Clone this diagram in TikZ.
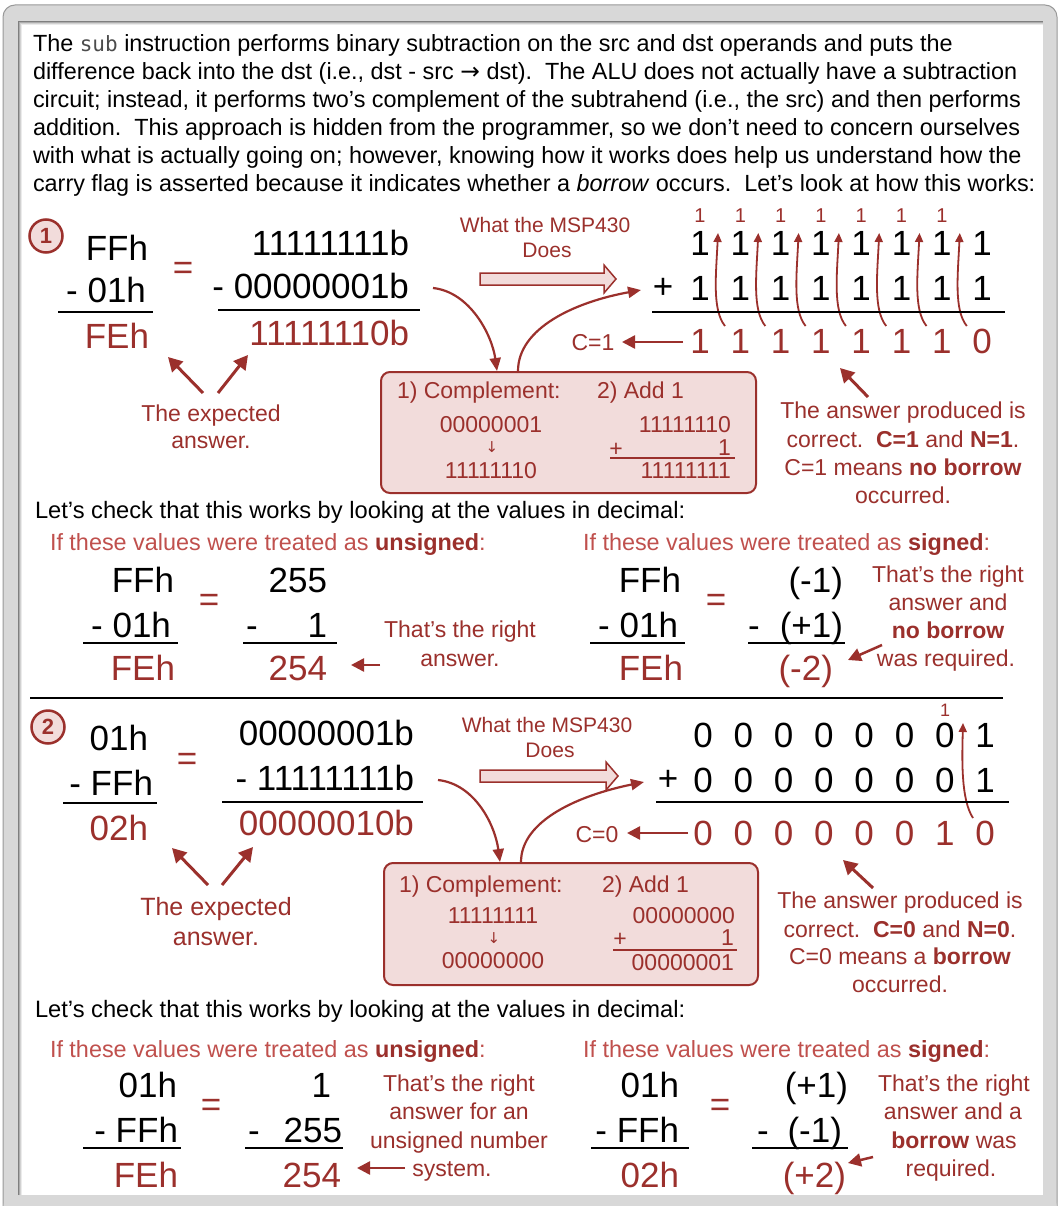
\documentclass[tikz,border=0pt]{standalone}
\usepackage{fontspec}
\setmainfont{Liberation Sans}
\newfontfamily\symf{DejaVu Sans}
\newfontfamily\monof{DejaVu Sans Mono}
\usetikzlibrary{arrows.meta}
\definecolor{dred}{RGB}{155,48,44}
\definecolor{lred}{RGB}{192,80,77}
\definecolor{pinkf}{RGB}{242,220,219}
\definecolor{framegray}{RGB}{216,216,216}
\newcommand{\setfs}[1]{\fontsize{#1pt}{#1pt}\selectfont}
\begin{document}
\begin{tikzpicture}[x=1pt,y=-1pt,every node/.style={inner sep=0pt,outer sep=0pt}]
\tikzset{
 para/.style={anchor=base west,font=\setfs{23.4}},
 bigE/.style={anchor=base east,font=\setfs{35}},
 bigW/.style={anchor=base west,font=\setfs{35}},
 eqs/.style={text=dred,font=\setfs{35}},
 note/.style={anchor=base,text=dred,font=\setfs{23}},
 rulel/.style={line width=2.2pt,black},
 bigarr/.style={dred,line width=3pt,-{Triangle[length=14pt,width=15pt]}},
 midarr/.style={dred,line width=2.5pt,-{Triangle[length=13pt,width=13pt]}},
 curvarr/.style={dred,line width=2.2pt,-{Triangle[length=13pt,width=11pt]}},
 carr/.style={dred,line width=1.8pt,-{Triangle[length=9pt,width=8pt]}},
 circnum/.style={circle,draw=dred,fill=pinkf,line width=2.5pt,minimum size=33pt,text=dred,font=\setfs{22}\bfseries},
 boxst/.style={draw=dred,fill=pinkf,line width=2pt,rounded corners=9pt,anchor=north west},
 boxt/.style={text=dred,font=\setfs{23}},
 hollow/.style={draw=dred,fill=pinkf,line width=1.5pt},
 carryn/.style={anchor=base,text=dred,font=\setfs{20}},
 gdig/.style={anchor=base,font=\setfs{35}},
 smallline/.style={dred,line width=1.2pt},
 downar/.style={text=dred,font=\symf\setfs{15}}
}
\useasboundingbox (0,0) rectangle (1060,1206);
% frame
\fill[white] (0,0) rectangle (1060,1206);
\fill[framegray,rounded corners=12pt] (3,1214) -- (3,5) -- (1057,5) -- (1057,1214) -- cycle;
\draw[black!40,line width=1pt,rounded corners=12pt] (3,1214) -- (3,5) -- (1057,5) -- (1057,1214);
\fill[white] (18,21) rectangle (1043,1195);
\foreach \i/\o in {0/0.5,1/0.32,2/0.18,3/0.08}{\draw[black,opacity=\o,line width=1pt] (18.5+\i,1195) -- (18.5+\i,21.5+\i) -- (1043,21.5+\i);}

% paragraph
\node[para] (p1) at (33,52) {The {\monof\setfs{21}\color{black!70}sub} instruction performs binary subtraction on the src and dst operands and puts the};
\node[para] (p2) at (33,80) {difference back into the dst (i.e., dst - src {\symf →} dst).\ \ The ALU does not actually have a subtraction};
\node[para] (p3) at (33,108) {circuit; instead, it performs two’s complement of the subtrahend (i.e., the src) and then performs};
\node[para] (p4) at (33,136) {addition.\ \ This approach is hidden from the programmer, so we don’t need to concern ourselves};
\node[para] (p5) at (33,164) {with what is actually going on; however, knowing how it works does help us understand how the};
\node[para] (p6) at (33,192) {carry flag is asserted because it indicates whether a \textit{borrow} occurs.\ \ Let’s look at how this works:};

% ===== Section 1 =====
\node[circnum] (c1) at (46,236) {1};
\node[bigE] (a1) at (148,260) {FFh};
\node[bigE] (a2) at (146,302) {- 01h};
\draw[rulel] (58,312) -- (153,312);
\node[bigE,text=dred] (a3) at (149,348) {FEh};
\node[eqs] (eq1) at (183,271) {=};
\node[bigE] (b1) at (409,255) {11111111b};
\node[bigE] (b2) at (409,298) {- 00000001b};
\draw[rulel] (218,310) -- (420,310);
\node[bigE,text=dred] (b3) at (409,345) {11111110b};
\node[note] (x1) at (211,421) {The expected};
\node[note] (x1b) at (211,448) {answer.};
\coordinate (e1a) at (203,393); \coordinate (e1b) at (168,357);
\coordinate (e2a) at (218,393); \coordinate (e2b) at (248,355);
\draw[bigarr] (e1a) -- (e1b);
\draw[bigarr] (e2a) -- (e2b);
% what the MSP430 does
\node[anchor=base,text=dred,font=\setfs{21}] (w1) at (545,233) {What the MSP430};
\node[anchor=base,text=dred,font=\setfs{21}] (w1b) at (547,258) {Does};
\draw[hollow] (480,273) -- (604,273) -- (604,265) -- (616,279) -- (604,293) -- (604,285) -- (480,285) -- cycle;
% box
\node[boxst,minimum width=375pt,minimum height=121pt] (box1) at (381,372) {};
\node[boxt,anchor=base west] (k1) at (397,398) {1) Complement:};
\node[boxt,anchor=base west] (k2) at (597,398) {2) Add 1};
\node[boxt,anchor=base] (k3) at (491,432) {00000001};
\node[downar] (k4) at (492,447) {↓};
\node[boxt,anchor=base] (k5) at (491,478) {11111110};
\node[boxt,anchor=base east] (k6) at (731,432) {11111110};
\node[boxt] (k7) at (616,450) {+};
\node[boxt,anchor=base east] (k8) at (731,455) {1};
\draw[smallline] (610,458) -- (735,458);
\node[boxt,anchor=base east] (k9) at (731,478) {11111111};
% curves
\coordinate (q1a) at (433,288); \coordinate (q1b) at (497,371);
\draw[curvarr] (q1a) .. controls (470,292) and (492,335) .. (q1b);
\coordinate (q2a) at (518,371); \coordinate (q2b) at (641,290);
\draw[curvarr] (q2a) .. controls (518,328) and (575,302) .. (q2b);
% grid
\foreach \k in {0,...,7} {
  \node[gdig] (ga\k) at ({700+40.3*\k},255) {1};
  \node[gdig] (gb\k) at ({700+40.3*\k},300) {1};
}
\foreach \k/\d in {0/1,1/1,2/1,3/1,4/1,5/1,6/1,7/0} {\node[gdig,text=dred] (gr\k) at ({700+40.3*\k},353) {\d};}
\foreach \k in {0,...,6} {
  \node[carryn] (gc\k) at ({700+40.3*\k},223) {1};
  \coordinate (cb\k) at ({725+40.3*\k},326);
  \coordinate (ct\k) at ({718+40.3*\k},233);
  \draw[carr] (cb\k) .. controls ({712+40.3*\k},310) and ({716+40.3*\k},275) .. (ct\k);
}
\node[font=\setfs{35}] (plus1) at (663,288) {+};
\draw[rulel] (652,312) -- (1005,312);
\node[anchor=base,text=dred,font=\setfs{23}] (cf1) at (593,350) {C=1};
\coordinate (cf1a) at (683,342); \coordinate (cf1b) at (622,342);
\draw[midarr] (cf1a) -- (cf1b);
\coordinate (an1a) at (868,397); \coordinate (an1b) at (840,368);
\draw[bigarr] (an1a) -- (an1b);
\node[note] (t1) at (903,418) {The answer produced is};
\node[note] (t2) at (903,447) {correct.\ \ \textbf{C=1} and \textbf{N=1}.};
\node[note] (t3) at (903,475) {C=1 means \textbf{no borrow}};
\node[note] (t4) at (903,503) {occurred.};

% decimal 1
\node[para,font=\setfs{23.7}] (l1) at (35,518) {Let’s check that this works by looking at the values in decimal:};
\node[para,text=lred] (u1) at (50,550) {If these values were treated as \textcolor{dred}{\textbf{unsigned}}:};
\node[para,text=lred] (s1) at (583,550) {If these values were treated as \textcolor{dred}{\textbf{signed}}:};
\node[bigE] (d1) at (174,592) {FFh};
\node[bigE] (d2) at (171,637) {- 01h};
\draw[rulel] (83,643) -- (178,643);
\node[bigE,text=dred] (d3) at (175,680) {FEh};
\node[eqs] (eq2) at (209,603) {=};
\node[bigE] (d4) at (327,592) {255};
\node[bigW] (d5) at (246,637) {-};
\node[bigE] (d6) at (327,637) {1};
\draw[rulel] (243,643) -- (337,643);
\node[bigE,text=dred] (d7) at (327,680) {254};
\coordinate (r1a) at (380,665); \coordinate (r1b) at (351,665);
\draw[midarr] (r1a) -- (r1b);
\node[note] (r1t) at (460,637) {That’s the right};
\node[note] (r1u) at (460,666) {answer.};
\node[bigE] (f1) at (681,592) {FFh};
\node[bigE] (f2) at (678,637) {- 01h};
\draw[rulel] (590,643) -- (685,643);
\node[bigE,text=dred] (f3) at (683,680) {FEh};
\node[eqs] (eq3) at (716,603) {=};
\node[bigE] (f4) at (843,592) {(-1)};
\node[bigW] (f5) at (748,637) {-};
\node[bigE] (f6) at (843,637) {(+1)};
\draw[rulel] (748,643) -- (845,643);
\node[bigE,text=dred] (f7) at (833,680) {(-2)};
\coordinate (r2a) at (882,645); \coordinate (r2b) at (848,660);
\draw[midarr] (r2a) -- (r2b);
\node[note] (r2t) at (948,582) {That’s the right};
\node[note] (r2u) at (948,610) {answer and};
\node[note] (r2v) at (948,638) {\textbf{no borrow}};
\node[note] (r2w) at (946,666) {was required.};

\draw[rulel] (30,698) -- (1003,698);

% ===== Section 2 =====
\node[circnum] (c2) at (48,727) {2};
\node[bigE] (a4) at (148,750) {01h};
\node[bigE] (a5) at (153,795) {- FFh};
\draw[rulel] (63,803) -- (157,803);
\node[bigE,text=dred] (a6) at (148,840) {02h};
\node[eqs] (eq4) at (187,762) {=};
\node[bigE] (b4) at (414,745) {00000001b};
\node[bigE] (b5) at (414,790) {- 11111111b};
\draw[rulel] (222,802) -- (423,802);
\node[bigE,text=dred] (b6) at (414,835) {00000010b};
\node[note,font=\setfs{25}] (x2) at (216,915) {The expected};
\node[note,font=\setfs{25}] (x2b) at (216,945) {answer.};
\coordinate (e3a) at (208,885); \coordinate (e3b) at (172,848);
\coordinate (e4a) at (222,885); \coordinate (e4b) at (253,847);
\draw[bigarr] (e3a) -- (e3b);
\draw[bigarr] (e4a) -- (e4b);
\node[anchor=base,text=dred,font=\setfs{21}] (w2) at (547,732) {What the MSP430};
\node[anchor=base,text=dred,font=\setfs{21}] (w2b) at (550,757) {Does};
\draw[hollow] (480,770) -- (606,770) -- (606,762) -- (618,776) -- (606,790) -- (606,782) -- (480,782) -- cycle;
\node[boxst,minimum width=374pt,minimum height=122pt] (box2) at (384,863) {};
\node[boxt,anchor=base west] (m1) at (399,892) {1) Complement:};
\node[boxt,anchor=base west] (m2) at (602,892) {2) Add 1};
\node[boxt,anchor=base] (m3) at (493,923) {11111111};
\node[downar] (m4) at (494,938) {↓};
\node[boxt,anchor=base] (m5) at (493,968) {00000000};
\node[boxt,anchor=base east] (m6) at (735,923) {00000000};
\node[boxt] (m7) at (620,940) {+};
\node[boxt,anchor=base east] (m8) at (734,945) {1};
\draw[smallline] (613,950) -- (737,950);
\node[boxt,anchor=base east] (m9) at (734,970) {00000001};
\coordinate (q3a) at (438,780); \coordinate (q3b) at (500,862);
\draw[curvarr] (q3a) .. controls (475,784) and (495,825) .. (q3b);
\coordinate (q4a) at (521,862); \coordinate (q4b) at (644,782);
\draw[curvarr] (q4a) .. controls (521,820) and (580,795) .. (q4b);
\foreach \k/\d in {0/0,1/0,2/0,3/0,4/0,5/0,6/0,7/1} {
  \node[gdig] (ha\k) at ({703+40.3*\k},747) {\d};
  \node[gdig] (hb\k) at ({703+40.3*\k},792) {\d};
}
\foreach \k/\d in {0/0,1/0,2/0,3/0,4/0,5/0,6/1,7/0} {\node[gdig,text=dred] (hr\k) at ({703+40.3*\k},845) {\d};}
\node[carryn,font=\setfs{18}] (hc6) at (945,716) {1};
\coordinate (hcb) at (973,818); \coordinate (hct) at (963,723);
\draw[carr] (hcb) .. controls (961,800) and (962,760) .. (hct);
\node[font=\setfs{35}] (plus2) at (668,780) {+};
\draw[rulel] (656,802) -- (1009,802);
\node[anchor=base,text=dred,font=\setfs{23}] (cf2) at (597,842) {C=0};
\coordinate (cf2a) at (688,833); \coordinate (cf2b) at (627,833);
\draw[midarr] (cf2a) -- (cf2b);
\coordinate (an2a) at (873,888); \coordinate (an2b) at (843,860);
\draw[bigarr] (an2a) -- (an2b);
\node[note] (t5) at (900,908) {The answer produced is};
\node[note] (t6) at (900,937) {correct.\ \ \textbf{C=0} and \textbf{N=0}.};
\node[note] (t7) at (900,964) {C=0 means a \textbf{borrow}};
\node[note] (t8) at (900,992) {occurred.};

% decimal 2
\node[para,font=\setfs{23.7}] (l2) at (35,1017) {Let’s check that this works by looking at the values in decimal:};
\node[para,text=lred] (u2) at (50,1057) {If these values were treated as \textcolor{dred}{\textbf{unsigned}}:};
\node[para,text=lred] (s2) at (583,1057) {If these values were treated as \textcolor{dred}{\textbf{signed}}:};
\node[bigE] (d8) at (177,1097) {01h};
\node[bigE] (d9) at (178,1142) {- FFh};
\draw[rulel] (83,1148) -- (181,1148);
\node[bigE,text=dred] (d10) at (178,1187) {FEh};
\node[eqs] (eq5) at (211,1108) {=};
\node[bigE] (d11) at (331,1097) {1};
\node[bigW] (d12) at (248,1142) {-};
\node[bigE] (d13) at (342,1142) {255};
\draw[rulel] (245,1148) -- (343,1148);
\node[bigE,text=dred] (d14) at (341,1187) {254};
\coordinate (r3a) at (405,1168); \coordinate (r3b) at (357,1168);
\draw[midarr] (r3a) -- (r3b);
\node[note] (r3t) at (459,1091) {That’s the right};
\node[note] (r3u) at (459,1119) {answer for an};
\node[note] (r3v) at (459,1148) {unsigned number};
\node[note] (r3w) at (452,1176) {system.};
\node[bigE] (f8) at (679,1097) {01h};
\node[bigE] (f9) at (679,1142) {- FFh};
\draw[rulel] (591,1148) -- (689,1148);
\node[bigE,text=dred] (f10) at (679,1187) {02h};
\node[eqs] (eq6) at (720,1108) {=};
\node[bigE] (f11) at (848,1097) {(+1)};
\node[bigW] (f12) at (757,1142) {-};
\node[bigE] (f13) at (842,1142) {(-1)};
\draw[rulel] (752,1148) -- (848,1148);
\node[bigE,text=dred] (f14) at (846,1187) {(+2)};
\coordinate (r4a) at (873,1157); \coordinate (r4b) at (848,1163);
\draw[midarr] (r4a) -- (r4b);
\node[note] (r4t) at (954,1091) {That’s the right};
\node[note] (r4u) at (953,1119) {answer and a};
\node[note] (r4v) at (954,1148) {\textbf{borrow} was};
\node[note] (r4w) at (951,1176) {required.};
\end{tikzpicture}
\end{document}
